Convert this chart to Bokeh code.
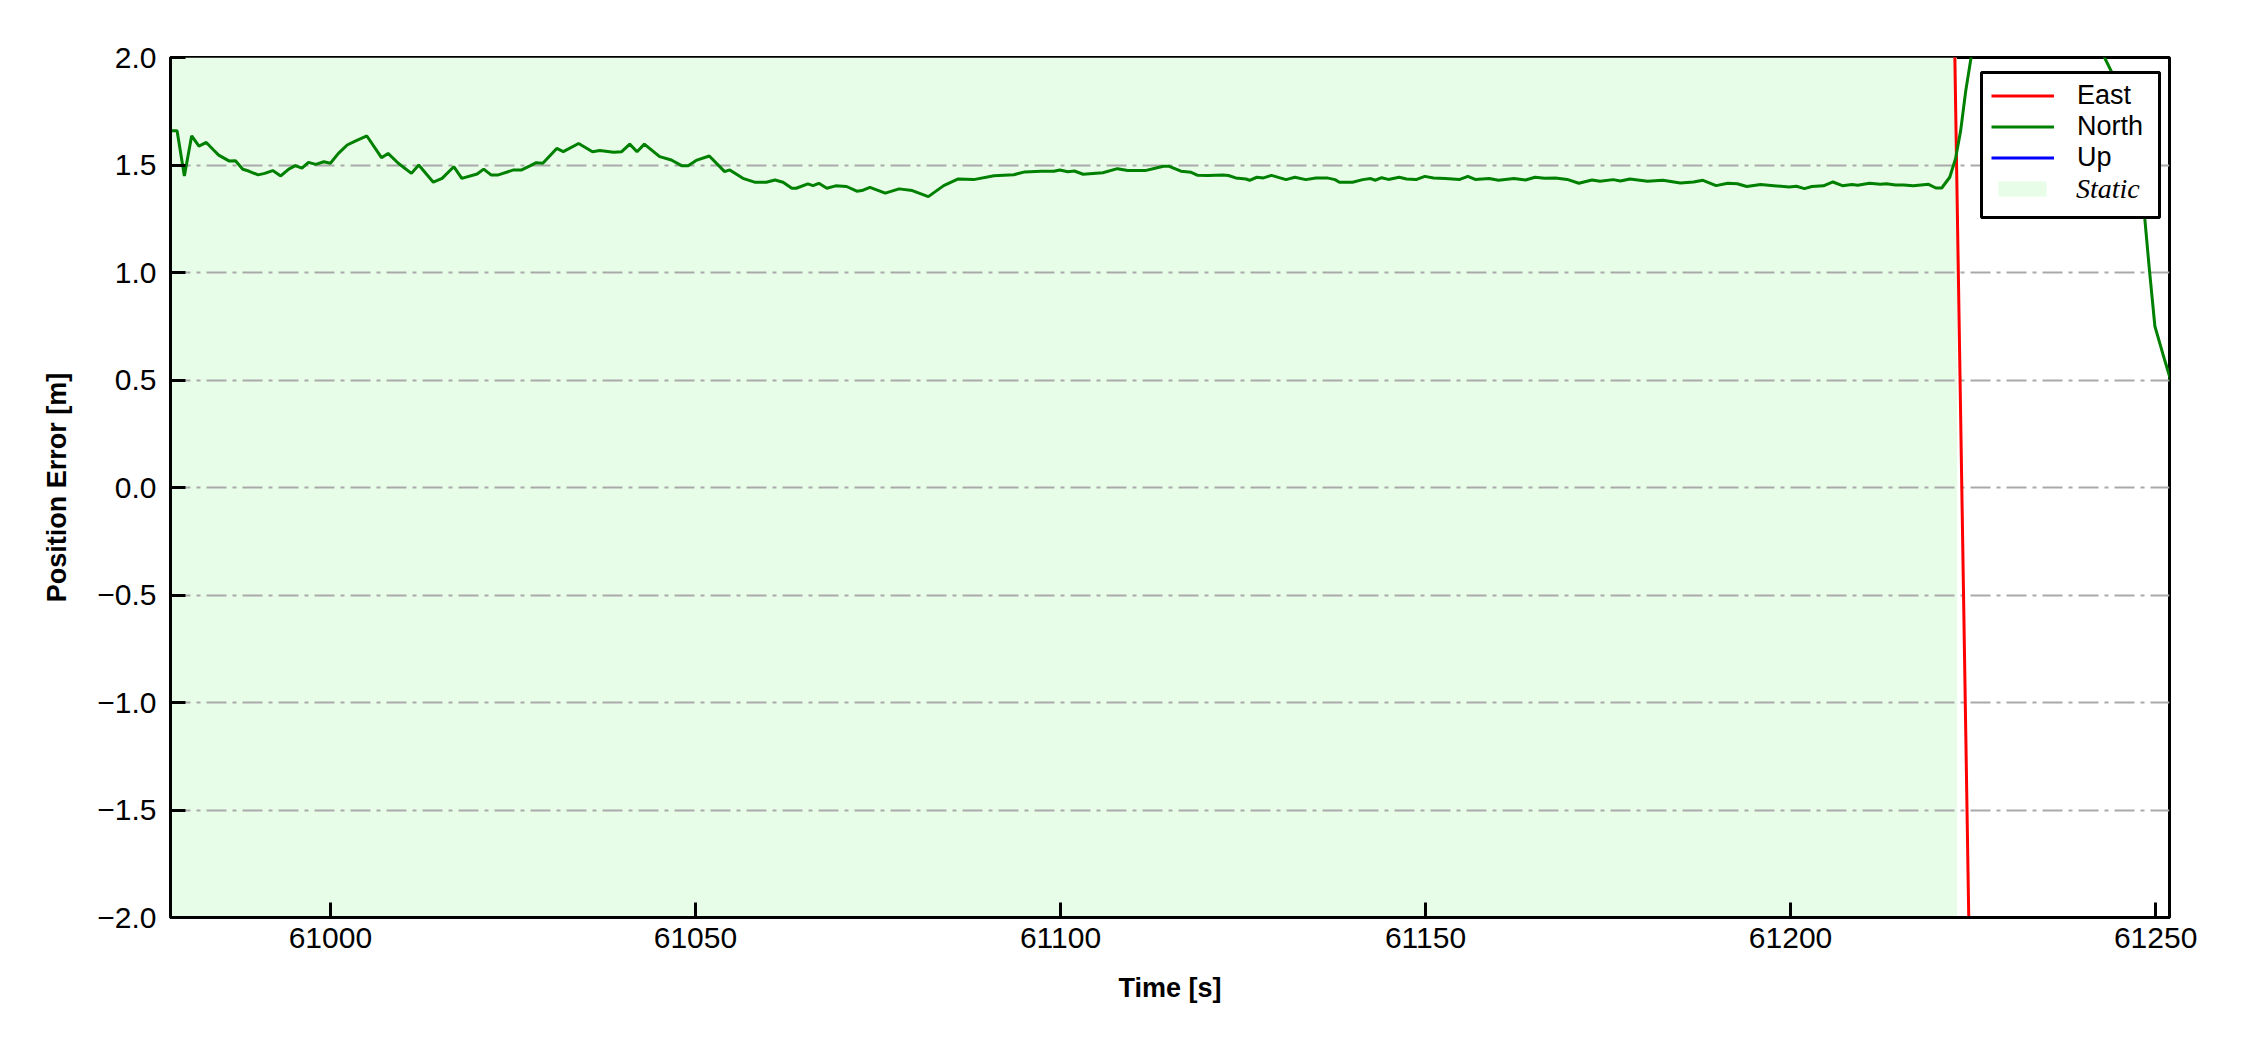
from bokeh.plotting import figure
from bokeh.models import (Range1d, FixedTicker, Legend, LegendItem, BoxAnnotation,
                          CustomJSTickFormatter)
from bokeh.embed import file_html
from bokeh.resources import INLINE

# ---------------- data ----------------
north_t = [60978.3, 60979.0, 60980.0, 60981.0, 60982.0, 60983.0, 60984.0, 60984.7, 60986.1, 60987.0,
           60988.0, 60988.8, 60990.1, 60991.0, 60992.1, 60993.2, 60994.3, 60995.2, 60996.1, 60997.0,
           60998.0, 60999.1, 61000.0, 61001.1, 61002.3, 61003.4, 61005.0, 61007.0, 61007.9, 61009.3,
           61011.1, 61012.1, 61014.1, 61015.3, 61016.9, 61018.0, 61020.1, 61021.0, 61022.0, 61023.0,
           61025.1, 61026.2, 61027.4, 61028.2, 61029.1, 61031.0, 61031.9, 61034.0, 61035.9, 61036.9,
           61038.8, 61039.9, 61041.0, 61042.0, 61043.0, 61045.1, 61046.7, 61048.1, 61049.0, 61050.2,
           61051.9, 61054.0, 61054.7, 61056.5, 61058.1, 61059.7, 61060.9, 61062.0, 61063.2, 61063.8,
           61065.4, 61066.1, 61066.9, 61068.0, 61069.2, 61070.7, 61072.1, 61072.8, 61073.9, 61076.0,
           61077.9, 61079.7, 61081.9, 61084.0, 61086.0, 61088.1, 61090.9, 61093.6, 61095.1, 61097.3,
           61099.1, 61099.9, 61101.0, 61101.9, 61103.1, 61105.8, 61107.8, 61109.2, 61111.6, 61113.1,
           61114.1, 61114.9, 61116.5, 61117.9, 61118.8, 61120.2, 61122.2, 61123.0, 61124.0, 61125.4,
           61125.9, 61126.9, 61127.8, 61128.9, 61130.9, 61132.1, 61133.6, 61135.0, 61136.5, 61137.6,
           61138.2, 61140.0, 61141.4, 61142.5, 61143.1, 61144.0, 61144.9, 61146.4, 61147.4, 61148.7,
           61149.9, 61151.1, 61152.7, 61154.7, 61155.8, 61156.8, 61158.7, 61160.0, 61162.1, 61163.7,
           61165.0, 61166.3, 61167.8, 61169.4, 61171.0, 61172.8, 61173.9, 61175.7, 61176.7, 61178.0,
           61180.4, 61182.5, 61184.9, 61186.7, 61188.0, 61189.8, 61191.4, 61192.7, 61194.0, 61195.9,
           61197.7, 61199.8, 61200.8, 61201.9, 61202.9, 61204.5, 61205.8, 61207.1, 61208.4, 61209.2,
           61210.8, 61212.3, 61213.1, 61214.4, 61215.5, 61216.8, 61218.9, 61219.9, 61220.7, 61221.8,
           61222.6, 61223.3, 61224.0, 61224.7, 61226.0, 61230.0, 61235.0, 61240.0, 61243.0, 61244.1,
           61245.0, 61246.0, 61247.0, 61248.0, 61248.5, 61249.1, 61249.9, 61251.0, 61252.5]
north_v = [1.659, 1.659, 1.449, 1.636, 1.588, 1.605, 1.570, 1.546, 1.519, 1.520,
           1.480, 1.472, 1.454, 1.461, 1.474, 1.449, 1.481, 1.497, 1.485, 1.512,
           1.503, 1.515, 1.508, 1.554, 1.593, 1.611, 1.635, 1.534, 1.554, 1.508,
           1.461, 1.500, 1.420, 1.438, 1.492, 1.438, 1.458, 1.481, 1.454, 1.454,
           1.477, 1.477, 1.497, 1.511, 1.508, 1.577, 1.562, 1.600, 1.562, 1.567,
           1.559, 1.562, 1.597, 1.562, 1.597, 1.539, 1.523, 1.497, 1.497, 1.523,
           1.542, 1.469, 1.477, 1.438, 1.420, 1.420, 1.430, 1.420, 1.392, 1.392,
           1.412, 1.404, 1.415, 1.392, 1.403, 1.400, 1.378, 1.381, 1.396, 1.369,
           1.389, 1.381, 1.353, 1.404, 1.435, 1.432, 1.450, 1.455, 1.468, 1.471,
           1.471, 1.477, 1.469, 1.472, 1.457, 1.464, 1.483, 1.474, 1.474, 1.486,
           1.494, 1.494, 1.471, 1.466, 1.452, 1.451, 1.454, 1.451, 1.440, 1.435,
           1.429, 1.443, 1.440, 1.452, 1.432, 1.443, 1.432, 1.440, 1.440, 1.432,
           1.420, 1.420, 1.432, 1.437, 1.429, 1.441, 1.433, 1.443, 1.435, 1.432,
           1.447, 1.440, 1.437, 1.433, 1.447, 1.433, 1.437, 1.429, 1.437, 1.430,
           1.443, 1.438, 1.440, 1.433, 1.415, 1.430, 1.424, 1.432, 1.426, 1.435,
           1.424, 1.429, 1.416, 1.421, 1.429, 1.404, 1.415, 1.413, 1.400, 1.409,
           1.404, 1.398, 1.401, 1.390, 1.400, 1.403, 1.421, 1.404, 1.409, 1.406,
           1.415, 1.410, 1.413, 1.407, 1.407, 1.403, 1.410, 1.393, 1.393, 1.443,
           1.530, 1.661, 1.847, 1.995, 2.400, 2.900, 3.100, 2.600, 2.000, 1.924,
           1.840, 1.730, 1.600, 1.400, 1.257, 1.030, 0.750, 0.620, 0.450]

east_t = [61221.0, 61222.0, 61223.0, 61224.0, 61225.0]
east_v = [5.00, 3.05, 0.95, -1.15, -3.25]

up_t = [61221.0, 61222.0, 61223.0, 61224.0, 61225.0]
up_v = [-4.8, -4.6, -5.1, -5.6, -6.0]

static_span = [60975.0, 61222.8]

x_limits = [60978.1, 61251.9]
y_limits = [-2.0, 2.0]
x_ticks = [61000, 61050, 61100, 61150, 61200, 61250]
x_tick_labels = ["61000", "61050", "61100", "61150", "61200", "61250"]
y_ticks = [-2.0, -1.5, -1.0, -0.5, 0.0, 0.5, 1.0, 1.5, 2.0]
y_tick_labels = ["\u22122.0", "\u22121.5", "\u22121.0", "\u22120.5", "0.0", "0.5", "1.0", "1.5", "2.0"]

series_labels = ["East", "North", "Up"]
static_label = "Static"

# ---------------- figure ----------------
p = figure(width=2234, height=1034, output_backend="svg", toolbar_location=None,
           x_range=Range1d(*x_limits), y_range=Range1d(*y_limits),
           min_border_left=170, min_border_right=65, min_border_top=57, min_border_bottom=117,
           background_fill_color="white", border_fill_color="white")

p.outline_line_color = "black"
p.outline_line_width = 3

# static shading (below grid)
r_s = p.varea(x=static_span, y1=[y_limits[0]] * 2, y2=[y_limits[1]] * 2,
              fill_color="#e8fde8", fill_alpha=1.0, level="image")

r_e = p.line(east_t, east_v, line_color="#ff0000", line_width=3)
r_n = p.line(north_t, north_v, line_color="#008000", line_width=3)
r_u = p.line(up_t, up_v, line_color="#0000ff", line_width=3)

# axes
js_code = ("const i = tvals.findIndex(t => Math.abs(t - tick) < 1e-6); "
           "return i >= 0 ? tlabs[i] : '';")
p.xaxis.ticker = FixedTicker(ticks=x_ticks)
p.yaxis.ticker = FixedTicker(ticks=y_ticks)
p.xaxis.formatter = CustomJSTickFormatter(args=dict(tvals=x_ticks, tlabs=x_tick_labels), code=js_code)
p.yaxis.formatter = CustomJSTickFormatter(args=dict(tvals=y_ticks, tlabs=y_tick_labels), code=js_code)

for ax in (p.xaxis[0], p.yaxis[0]):
    ax.axis_line_color = "black"
    ax.axis_line_width = 3
    ax.major_tick_in = 15
    ax.major_tick_out = 0
    ax.major_tick_line_width = 3
    ax.major_tick_line_color = "black"
    ax.minor_tick_line_color = None
    ax.major_label_text_font = "Liberation Sans"
    ax.major_label_text_font_size = "30px"
    ax.major_label_text_color = "black"
    ax.axis_label_text_font = "Liberation Sans"
    ax.axis_label_text_font_style = "bold"
    ax.axis_label_text_font_size = "27px"
    ax.axis_label_text_color = "black"

p.xaxis.axis_label = "Time [s]"
p.yaxis.axis_label = "Position Error [m]"
p.xaxis.major_label_standoff = 10
p.yaxis.major_label_standoff = 14
p.xaxis.axis_label_standoff = 22
p.yaxis.axis_label_standoff = 22

p.xgrid.visible = False
p.ygrid.grid_line_color = "#a9a9a9"
p.ygrid.grid_line_width = 2
p.ygrid.grid_line_dash = "20 6 4 6"

# legend frame
box = BoxAnnotation(left=1981, right=2159, top=72, bottom=217,
                    left_units="canvas", right_units="canvas",
                    top_units="canvas", bottom_units="canvas",
                    fill_color="white", fill_alpha=1.0,
                    line_color="black", line_alpha=1.0, line_width=3, level="annotation")
p.add_layout(box)

leg1 = Legend(items=[LegendItem(label=series_labels[0], renderers=[r_e]),
                     LegendItem(label=series_labels[1], renderers=[r_n]),
                     LegendItem(label=series_labels[2], renderers=[r_u])],
              location=(1821, 744.5), padding=0, margin=0, spacing=0,
              glyph_width=63, glyph_height=31, label_height=31, label_standoff=23,
              label_text_font="Liberation Sans", label_text_font_size="27px",
              label_text_color="black",
              border_line_color=None, background_fill_alpha=0.0)
leg2 = Legend(items=[LegendItem(label=static_label, renderers=[r_s])],
              location=(1822, 712.5), padding=0, margin=0, spacing=0,
              glyph_width=60, glyph_height=19, label_height=19, label_standoff=24,
              label_text_font="Liberation Serif", label_text_font_style="italic",
              label_text_font_size="28px", label_text_color="black",
              border_line_color=None, background_fill_alpha=0.0)
p.add_layout(leg1)
p.add_layout(leg2)

open("out.html", "w").write(file_html(p, INLINE))
